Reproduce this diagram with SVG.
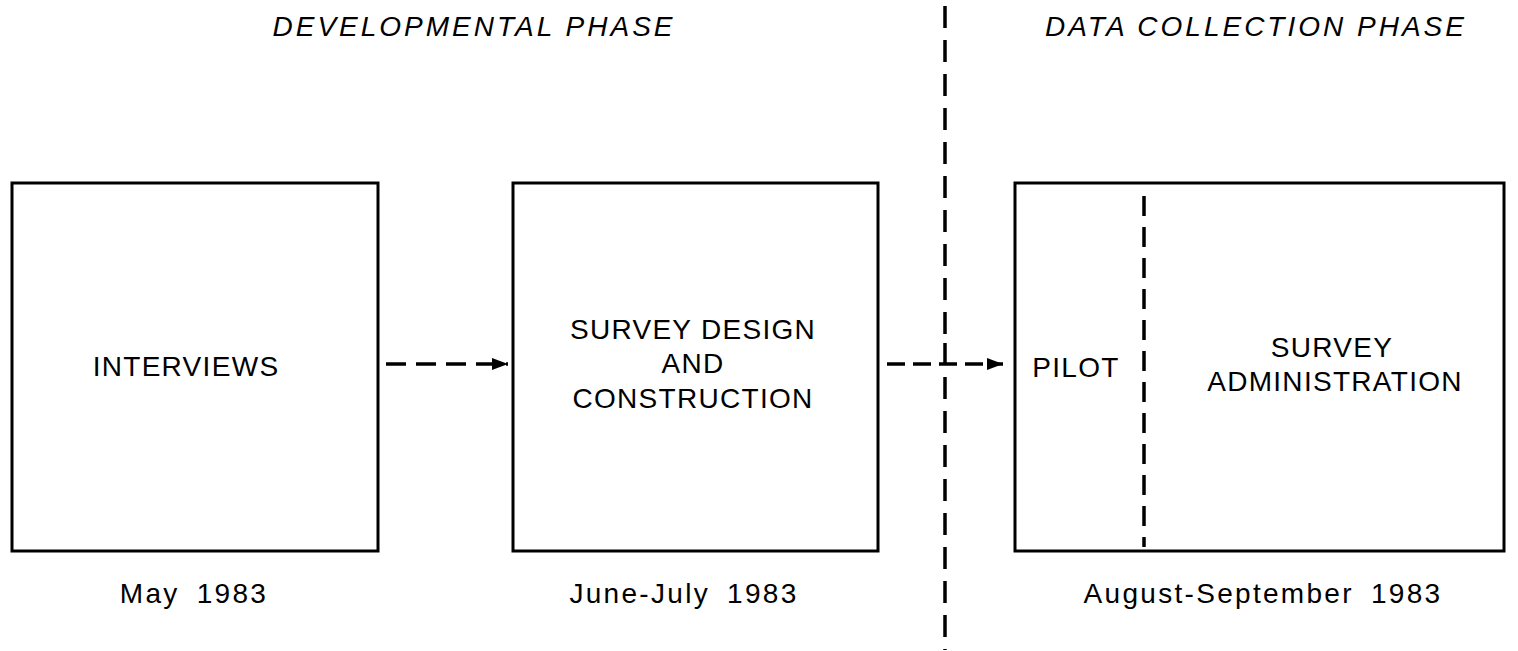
<svg xmlns="http://www.w3.org/2000/svg" width="1518" height="651" viewBox="0 0 1518 651">
<defs>
<style>
text{font-family:"Liberation Sans","DejaVu Sans",sans-serif;fill:#000;text-anchor:middle}
.lbl{font-size:28px;letter-spacing:1.3px}
.date{font-size:28px;letter-spacing:2.3px;word-spacing:7px}
.hdr{font-size:28px;font-style:italic;letter-spacing:3px}
.box{fill:#fff;stroke:#000;stroke-width:3}
.dash{fill:none;stroke:#000;stroke-width:3.5}
</style>
<marker id="ah" viewBox="0 0 16 12" refX="16" refY="6" markerWidth="16" markerHeight="12" markerUnits="userSpaceOnUse" orient="auto"><path d="M0,0 L16,6 L0,12 Z" fill="#000"/></marker>
</defs>
<rect width="1518" height="651" fill="#fff"/>
<g id="headers">
<text class="hdr" x="474" y="36">DEVELOPMENTAL PHASE</text>
<text class="hdr" x="1256" y="36">DATA COLLECTION PHASE</text>
</g>
<g id="divider">
<line class="dash" x1="945" y1="6" x2="945" y2="340" stroke-dasharray="22 12"/>
<line class="dash" x1="945" y1="377" x2="945" y2="650" stroke-dasharray="22 12"/>
</g>
<g id="interviews">
<rect class="box" x="12" y="183" width="366" height="368"/>
<text class="lbl" x="186" y="376">INTERVIEWS</text>
<text class="date" x="194" y="603">May 1983</text>
</g>
<g id="survey-design">
<rect class="box" x="513" y="183" width="365" height="368"/>
<text class="lbl" x="693" y="339">SURVEY DESIGN</text>
<text class="lbl" x="693" y="373">AND</text>
<text class="lbl" x="693" y="408">CONSTRUCTION</text>
<text class="date" x="684" y="603">June-July 1983</text>
</g>
<g id="data-collection">
<rect class="box" x="1015" y="183" width="489" height="368"/>
<line class="dash" x1="1144" y1="196" x2="1144" y2="547" stroke-dasharray="20 11"/>
<text class="lbl" x="1076" y="377">PILOT</text>
<text class="lbl" x="1332" y="357">SURVEY</text>
<text class="lbl" x="1335" y="391">ADMINISTRATION</text>
<text class="date" x="1263" y="603">August-September 1983</text>
</g>
<g id="connectors">
<line class="dash" x1="386" y1="364" x2="508" y2="364" stroke-dasharray="20 10" marker-end="url(#ah)"/>
<line class="dash" x1="887" y1="364" x2="1003" y2="364" stroke-dasharray="18 8" marker-end="url(#ah)"/>
<line class="dash" x1="945" y1="343" x2="945" y2="364"/>
</g>
</svg>
